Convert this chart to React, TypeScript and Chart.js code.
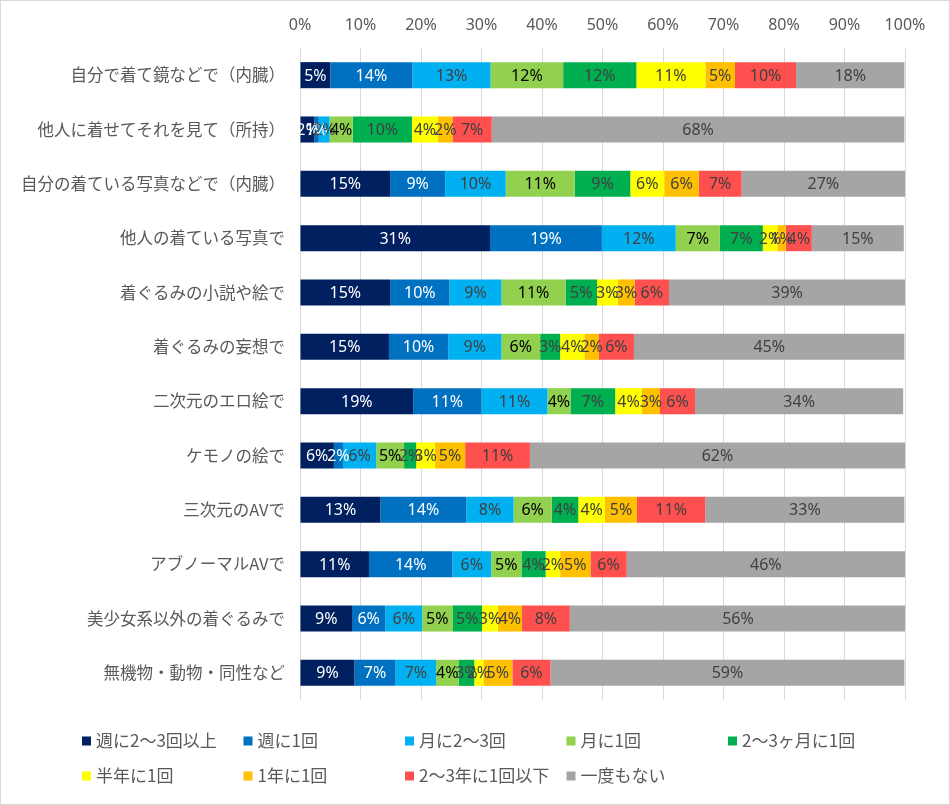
import React, { useEffect, useRef } from "react";
import { Chart, registerables } from "chart.js";

Chart.register(...registerables);

const categories = [
  "自分で着て鏡などで（内臓）",
  "他人に着せてそれを見て（所持）",
  "自分の着ている写真などで（内臓）",
  "他人の着ている写真で",
  "着ぐるみの小説や絵で",
  "着ぐるみの妄想で",
  "二次元のエロ絵で",
  "ケモノの絵で",
  "三次元のAVで",
  "アブノーマルAVで",
  "美少女系以外の着ぐるみで",
  "無機物・動物・同性など",
];

const seriesNames = [
  "週に2〜3回以上",
  "週に1回",
  "月に2〜3回",
  "月に1回",
  "2〜3ヶ月に1回",
  "半年に1回",
  "1年に1回",
  "2〜3年に1回以下",
  "一度もない",
];

const weekly2to3 = [5.0, 2.4, 14.9, 31.4, 14.9, 14.7, 18.7, 5.6, 13.3, 11.4, 8.6, 9.0];
const weekly1 = [13.6, 0.7, 9.1, 18.5, 9.8, 9.8, 11.3, 1.5, 14.2, 13.8, 5.5, 6.8];
const monthly2to3 = [12.9, 1.8, 10.0, 12.2, 8.6, 8.8, 10.9, 5.5, 7.8, 6.4, 6.1, 6.7];
const monthly1 = [12.0, 3.8, 11.4, 7.3, 10.6, 6.4, 3.8, 4.6, 6.3, 5.0, 5.0, 3.7];
const per2to3Months = [12.1, 9.8, 9.2, 7.1, 5.2, 3.3, 7.4, 2.0, 4.4, 4.0, 4.9, 2.6];
const halfYear1 = [11.4, 4.3, 5.6, 2.4, 3.4, 4.0, 4.4, 3.1, 4.4, 2.4, 2.6, 1.5];
const yearly1 = [4.9, 2.4, 5.7, 1.4, 2.8, 2.4, 3.0, 5.0, 5.3, 5.0, 4.0, 4.8];
const per2to3YearsOrLess = [10.1, 6.5, 7.1, 4.3, 5.7, 5.8, 5.8, 10.7, 11.3, 6.0, 7.9, 6.3];
const never = [17.9, 68.2, 27.0, 15.2, 39.0, 44.7, 34.4, 62.0, 32.9, 46.0, 55.6, 58.5];

const seriesValues = [
  weekly2to3,
  weekly1,
  monthly2to3,
  monthly1,
  per2to3Months,
  halfYear1,
  yearly1,
  per2to3YearsOrLess,
  never,
];

const xTicks = [0, 10, 20, 30, 40, 50, 60, 70, 80, 90, 100];

const colors = [
  "#002060",
  "#0070C0",
  "#00B0F0",
  "#92D050",
  "#00B050",
  "#FFFF00",
  "#FFC000",
  "#FF5050",
  "#A5A5A5",
];
const labelColors = [
  "#FFFFFF",
  "#FFFFFF",
  "#404040",
  "#000000",
  "#404040",
  "#404040",
  "#404040",
  "#404040",
  "#404040",
];

const JP = "'Noto Sans CJK JP', 'Noto Sans', sans-serif";
const NUM = "'Noto Sans', 'Noto Sans CJK JP', sans-serif";

const barLabelPlugin = {
  id: "barLabels",
  afterDatasetsDraw(chart: any) {
    const ctx = chart.ctx;
    ctx.save();
    ctx.font = `16px ${NUM}`;
    ctx.textAlign = "center";
    ctx.textBaseline = "middle";
    chart.data.datasets.forEach((ds: any, di: number) => {
      const meta = chart.getDatasetMeta(di);
      meta.data.forEach((el: any, i: number) => {
        const v = ds.data[i];
        const cx = (el.x + el.base) / 2;
        ctx.fillStyle = labelColors[di];
        ctx.fillText(Math.round(v) + "%", cx, el.y + 1);
      });
    });
    ctx.restore();
  },
};

const legendPlugin = {
  id: "fixedLegend",
  afterDraw(chart: any) {
    const ctx = chart.ctx;
    ctx.save();
    ctx.font = `17px ${JP}`;
    ctx.textBaseline = "middle";
    ctx.textAlign = "left";
    chart.data.datasets.forEach((ds: any, i: number) => {
      const col = i % 5;
      const row = Math.floor(i / 5);
      const x = 82 + col * 161.5;
      const y = 741 + row * 35;
      ctx.fillStyle = ds.backgroundColor;
      ctx.fillRect(x, y - 4.5, 9, 9);
      ctx.fillStyle = "#595959";
      ctx.fillText(ds.label, x + 14, y);
    });
    ctx.restore();
  },
};

const borderPlugin = {
  id: "frame",
  afterDraw(chart: any) {
    const ctx = chart.ctx;
    ctx.save();
    ctx.strokeStyle = "#D9D9D9";
    ctx.lineWidth = 1;
    ctx.strokeRect(0.5, 0.5, chart.width - 1, chart.height - 1);
    ctx.restore();
  },
};

export default function App() {
  const ref = useRef<HTMLCanvasElement | null>(null);

  useEffect(() => {
    document.body.style.margin = "0";
    const canvas = ref.current;
    if (!canvas) return;
    const chart = new Chart(canvas, {
      type: "bar",
      data: {
        labels: categories,
        datasets: seriesNames.map((name, i) => ({
          label: name,
          data: seriesValues[i],
          backgroundColor: colors[i],
          borderWidth: 0,
          barPercentage: 0.48,
          categoryPercentage: 1,
        })),
      },
      options: {
        indexAxis: "y",
        animation: false,
        responsive: false,
        maintainAspectRatio: false,
        layout: { padding: { left: 0, right: 45, top: 0, bottom: 105 } },
        plugins: {
          legend: { display: false },
          tooltip: { enabled: false },
        },
        scales: {
          x: {
            type: "linear",
            position: "top",
            stacked: true,
            min: 0,
            max: 100,
            afterBuildTicks: (scale: any) => {
              scale.ticks = xTicks.map((v) => ({ value: v }));
            },
            afterFit: (scale: any) => {
              scale.height = 48;
            },
            ticks: {
              padding: 13,
              color: "#595959",
              font: { size: 16, family: NUM },
              callback: (v: any) => v + "%",
            },
            grid: { color: "#D9D9D9", drawTicks: false, lineWidth: 1 },
            border: { display: false },
          },
          y: {
            type: "category",
            stacked: true,
            afterFit: (scale: any) => {
              scale.width = 300;
            },
            ticks: {
              padding: 15,
              color: "#595959",
              font: { size: 16.5, family: JP },
            },
            grid: { display: false, drawTicks: false },
            border: { display: false },
          },
        },
      },
      plugins: [barLabelPlugin, legendPlugin, borderPlugin],
    } as any);
    return () => chart.destroy();
  }, []);

  return (
    <div style={{ width: 950, height: 805, background: "#FFFFFF" }}>
      <canvas ref={ref} width={950} height={805} style={{ display: "block", width: 950, height: 805 }} />
    </div>
  );
}
